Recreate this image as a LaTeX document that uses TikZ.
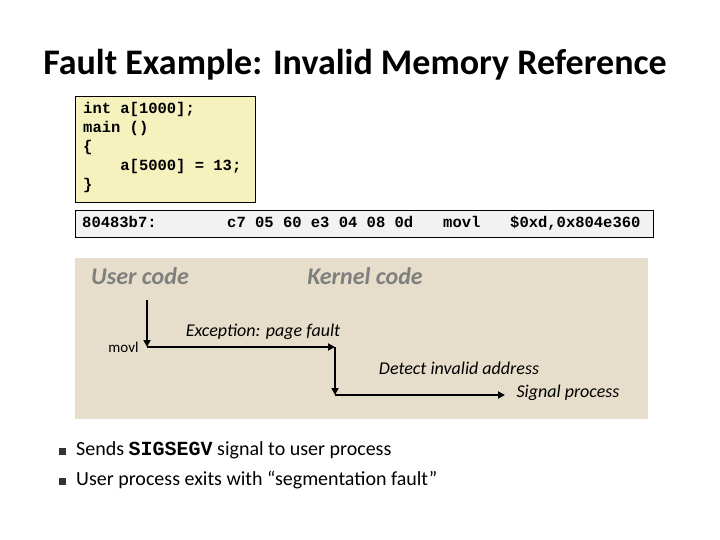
\documentclass[tikz,border=0pt]{standalone}
\usepackage{fontspec}
\setmainfont{Carlito}
\setmonofont{Liberation Mono}
\usepackage{tikz}
\usetikzlibrary{positioning,arrows.meta,calc}

\definecolor{codefill}{HTML}{F5F2BE}
\definecolor{instfill}{HTML}{F2F2F2}
\definecolor{panelfill}{HTML}{E6DECA}
\definecolor{headgray}{HTML}{7F7F7F}

\begin{document}
\begin{tikzpicture}[x=1pt, y=-1pt,
    >=Triangle,
    panel/.style={draw=none, fill=panelfill, anchor=north west, inner sep=0pt},
    codebox/.style={draw, fill=#1, anchor=north west, inner sep=0pt},
    codebox/.default=codefill,
    code/.style={font=\fontsize{15.5}{18}\selectfont\ttfamily\bfseries, anchor=base west, inner sep=0pt},
    head/.style={font=\fontsize{24}{28}\selectfont\bfseries\itshape, text=headgray},
    lbl/.style={font=\fontsize{18}{22}\selectfont\itshape},
    flow/.style={->, line width=2.5pt, >={Triangle[length=7pt,width=7pt]}},
    bullet/.style={fill=black!80, minimum size=7pt, inner sep=0pt},
    btxt/.style={font=\fontsize{20}{24}\selectfont, anchor=west, inner sep=0pt},
]
\useasboundingbox (0,0) rectangle (720,540);

% --- Title ---
\node[font=\fontsize{36}{42}\selectfont\bfseries] (title) at (355,65) {Fault Example: Invalid Memory Reference};

% --- Source code ---
\node[codebox, minimum width=180pt, minimum height=106pt] (src) at (75,96) {};
\node[code] (l1) at (83,114) {int a[1000];};
\node[code] (l2) at (83,133) {main ()};
\node[code] (l3) at (83,152) {\{};
\node[code] (l4) at (83,171) {\ \ \ \ a[5000] = 13;};
\node[code] (l5) at (83,190) {\}};

% --- Machine instruction ---
\node[codebox=instfill, minimum width=578pt, minimum height=27pt] (inst) at (75,210) {};
\node[code] (addr) at (82,228) {80483b7:};
\node[code] (bytes) at (227,228) {c7 05 60 e3 04 08 0d};
\node[code] (op) at (443,228) {movl};
\node[code] (args) at (510,228) {\$0xd,0x804e360};

% --- Control flow panel ---
\node[panel, minimum width=573pt, minimum height=161pt] (flowpanel) at (75,258) {};
\node[head] (user) at (140,276) {User code};
\node[head] (kernel) at (365,276) {Kernel code};

\coordinate (u0) at (147,300);
\coordinate (u1) at (147,347);
\coordinate (k0) at (335,347);
\coordinate (k1) at (335,395);
\coordinate (k2) at (505,395);

\draw[flow] (u0) -- (u1);
\draw[flow] (u1) -- (k0);
\draw[flow] (k0) -- (k1);
\draw[flow] (k1) -- (k2);

\node[font=\fontsize{15}{18}\selectfont, anchor=east] (movl) at (142,347) {movl};
\node[lbl] (exc) at (263,332) {Exception: page fault};
\node[lbl] (detect) at (459,368) {Detect invalid address};
\node[lbl] (signal) at (568,393) {Signal process};

% --- Bullets ---
\node[bullet] (b1) at (62,451) {};
\node[btxt] (t1) at (76,450) {Sends \texttt{\bfseries SIGSEGV} signal to user process};
\node[bullet] (b2) at (62,481) {};
\node[btxt] (t2) at (76,480) {User process exits with “segmentation fault”};

\end{tikzpicture}
\end{document}
